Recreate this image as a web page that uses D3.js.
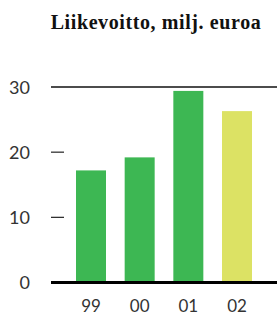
<!DOCTYPE html>
<html>
<head>
<meta charset="utf-8">
<script src="https://cdn.jsdelivr.net/npm/d3@7"></script>
<style>
  body { margin: 0; background: #fff; }
  svg { display: block; }
</style>
</head>
<body>
<svg id="chart" width="277" height="318"></svg>
<script>
// chart data
const years = ['99', '00', '01', '02'];
const profit = [17.2, 19.2, 29.4, 26.3];
const barColors = ['#3db753', '#3db753', '#3db753', '#dce264'];
const yTicks = [0, 10, 20, 30];

const svg = d3.select('#chart');
const width = 277;

const x = d3.scaleBand()
  .domain(years)
  .range([76, 252])
  .paddingInner(0.3836)
  .paddingOuter(0);

const y = d3.scaleLinear()
  .domain([0, 30])
  .range([282.5, 87]);

// title
svg.append('text')
  .attr('x', 156)
  .attr('y', 29)
  .attr('text-anchor', 'middle')
  .attr('font-family', 'Liberation Serif, serif')
  .attr('font-weight', 'bold')
  .attr('font-size', 20)
  .attr('letter-spacing', 0.6)
  .attr('fill', '#111')
  .text('Liikevoitto, milj. euroa');

// bars
svg.selectAll('rect.bar')
  .data(years)
  .enter()
  .append('rect')
  .attr('class', 'bar')
  .attr('x', d => x(d))
  .attr('width', x.bandwidth())
  .attr('y', (d, i) => y(profit[i]))
  .attr('height', (d, i) => y(0) - y(profit[i]))
  .attr('fill', (d, i) => barColors[i]);

// y axis labels
const yAxis = d3.axisLeft(y)
  .tickValues(yTicks)
  .tickSize(0)
  .tickPadding(0)
  .tickFormat(d3.format('d'));

const gy = svg.append('g')
  .attr('transform', 'translate(30,0)')
  .call(yAxis);
gy.select('.domain').remove();
gy.selectAll('text')
  .attr('font-family', 'Lato, sans-serif')
  .attr('font-size', 18)
  .attr('fill', '#333')
  .attr('dy', '0.34em');

// short tick marks at 10 and 20
svg.selectAll('line.tick')
  .data(yTicks.filter(t => t > 0 && t < 30))
  .enter()
  .append('line')
  .attr('class', 'tick')
  .attr('x1', 51).attr('x2', 64)
  .attr('y1', d => y(d)).attr('y2', d => y(d))
  .attr('stroke', '#222')
  .attr('stroke-width', 1.2);

// full line at 30
svg.append('line')
  .attr('x1', 51).attr('x2', width)
  .attr('y1', y(30)).attr('y2', y(30))
  .attr('stroke', '#111')
  .attr('stroke-width', 1.3);

// thick baseline
svg.append('line')
  .attr('x1', 51).attr('x2', width)
  .attr('y1', y(0)).attr('y2', y(0))
  .attr('stroke', '#000')
  .attr('stroke-width', 3);

// x axis labels
const xAxis = d3.axisBottom(x).tickSize(0).tickPadding(0);
const gx = svg.append('g')
  .attr('transform', 'translate(0,300)')
  .call(xAxis);
gx.select('.domain').remove();
gx.selectAll('text')
  .attr('font-family', 'Lato, sans-serif')
  .attr('font-size', 17)
  .attr('fill', '#333')
  .attr('dy', '0.71em');
</script>
</body>
</html>
